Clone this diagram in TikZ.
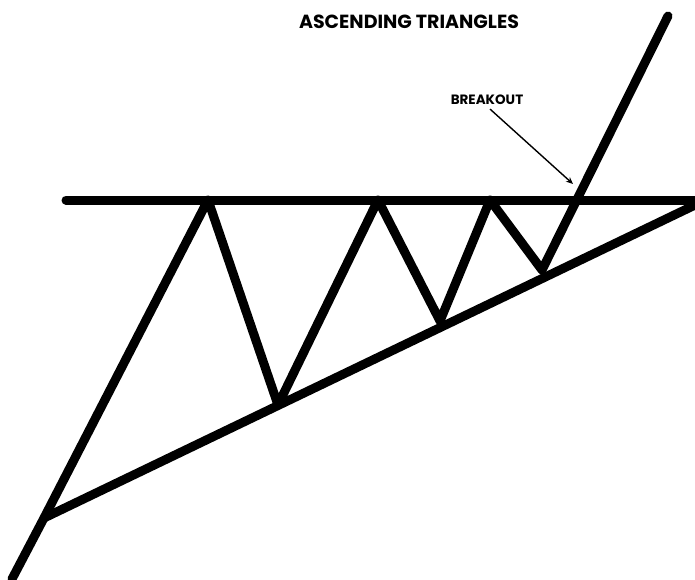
\documentclass[tikz,border=0pt]{standalone}
\usepackage{fontspec}
\setmainfont{Poppins}
\usetikzlibrary{arrows.meta}
\begin{document}
\begin{tikzpicture}[x=1pt, y=-1pt, >={Stealth[length=7pt, width=6pt]},
  heavy/.style={line width=9pt, line join=round},
  lbl/.style={inner sep=0pt}]
\useasboundingbox (0,0) rectangle (695,579);
\clip (0,0) rectangle (695,579);
% Price swings
\coordinate (p0) at (12,579);
\coordinate (p1) at (44,518);
\coordinate (h1) at (208,200);
\coordinate (l1) at (278,405);
\coordinate (h2) at (378,200);
\coordinate (l2) at (440,321);
\coordinate (h3) at (490,200);
\coordinate (l3) at (542,270);
\coordinate (top) at (668,16);
% Resistance and support
\coordinate (r0) at (66,200);
\coordinate (r1) at (720,200);
\coordinate (s1) at (720,193);
\draw[heavy, line cap=round] (r0) -- (r1);
\draw[heavy] (p1) -- (s1);
\draw[heavy, line cap=round] (p0) -- (p1) -- (h1) -- (l1) -- (h2) -- (l2) -- (h3) -- (l3) -- (top);
% Labels
\node[lbl, font=\bfseries\fontsize{19}{22}\selectfont] (title) at (409,22) {ASCENDING TRIANGLES};
\node[lbl, font=\bfseries\fontsize{13.5}{16}\selectfont] (brk) at (487,100) {BREAKOUT};
\coordinate (tip) at (573,184);
\draw[->, line width=1.4pt] ([xshift=3pt, yshift=-4pt]brk.south) -- (tip);
\end{tikzpicture}
\end{document}
